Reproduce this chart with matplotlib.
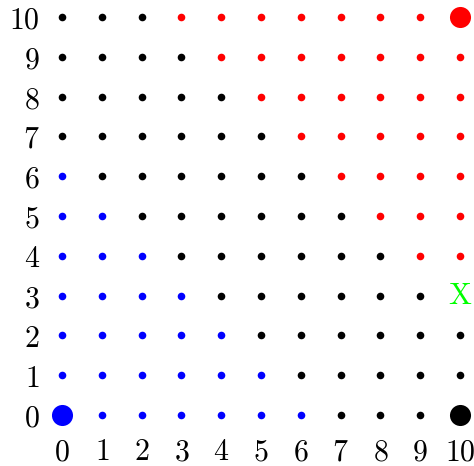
import matplotlib
matplotlib.use("Agg")
import matplotlib.pyplot as plt

plt.rcParams['mathtext.fontset'] = 'cm'

# grid group per cell, rows from y=10 down to y=0 (b=blue, k=black, r=red, x=label)
grid_rows = [
    "kkkrrrrrrrr",  # 10
    "kkkkrrrrrrr",  # 9
    "kkkkkrrrrrr",  # 8
    "kkkkkkrrrrr",  # 7
    "bkkkkkkrrrr",  # 6
    "bbkkkkkkrrr",  # 5
    "bbbkkkkkkrr",  # 4
    "bbbbkkkkkkx",  # 3
    "bbbbbkkkkkk",  # 2
    "bbbbbbkkkkk",  # 1
    "bbbbbbbkkkk",  # 0
]
big_points = [(0, 0, 'b'), (10, 0, 'k'), (10, 10, 'r')]
label_point = (10, 3, 'X')
ticks = list(range(11))

colors = {'b': '#0000ff', 'k': '#000000', 'r': '#ff0000'}

fig = plt.figure(figsize=(4.74, 4.66), dpi=100)
ax = fig.add_axes([62 / 474, 51 / 466, 398 / 474, 398 / 466])

big_set = {(x, y) for x, y, _ in big_points}
for i, row in enumerate(grid_rows):
    y = 10 - i
    for x, g in enumerate(row):
        if g in colors and (x, y) not in big_set:
            ax.scatter(x, y, s=30, color=colors[g], clip_on=False, zorder=3, linewidths=0)

for x, y, g in big_points:
    ax.scatter(x, y, s=230, color=colors[g], clip_on=False, zorder=3, linewidths=0)

ax.text(label_point[0], label_point[1], '$\\mathrm{' + label_point[2] + '}$',
        color='#00ff00', fontsize=22, ha='center', va='center')

ax.set_xlim(0, 10)
ax.set_ylim(0, 10)
ax.set_xticks(ticks)
ax.set_yticks(ticks)
ax.set_xticklabels(['$%d$' % t for t in ticks], fontsize=21.5)
ax.set_yticklabels(['$%d$' % t for t in ticks], fontsize=21.5)
ax.tick_params(axis='x', length=0, pad=16)
ax.tick_params(axis='y', length=0, pad=16)
for s in ax.spines.values():
    s.set_visible(False)

fig.savefig('out.png', dpi=100)
